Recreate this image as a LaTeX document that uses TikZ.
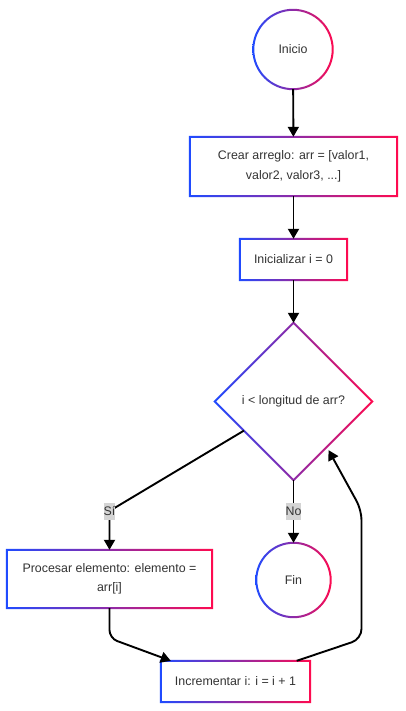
\documentclass[tikz,border=0pt]{standalone}
\usepackage{fontspec}
\setmainfont{Liberation Sans}
\usetikzlibrary{shapes.geometric,arrows.meta,calc}
\definecolor{gblue}{HTML}{1F4BFF}
\definecolor{gred}{HTML}{FF0A4F}
\definecolor{txt}{HTML}{333333}
\definecolor{lblbg}{HTML}{D4D4D4}
\newcommand\gradbox[1]{\shade[left color=gblue,right color=gred,even odd rule]
  ($(#1.south west)+(-1pt,-1pt)$) rectangle ($(#1.north east)+(1pt,1pt)$)
  ($(#1.south west)+(1pt,1pt)$) rectangle ($(#1.north east)+(-1pt,-1pt)$);}
\newcommand\gradcirc[1]{\shade[left color=gblue,right color=gred,even odd rule]
  let \p1=($(#1.east)-(#1.center)$) in
  (#1.center) circle[radius=\x1+1pt] (#1.center) circle[radius=\x1-1pt];}
\newcommand\graddia[1]{\shade[left color=gblue,right color=gred,even odd rule]
  ($(#1.north)+(0pt,1.41pt)$) -- ($(#1.east)+(1.41pt,0pt)$) -- ($(#1.south)+(0pt,-1.41pt)$) -- ($(#1.west)+(-1.41pt,0pt)$) -- cycle
  ($(#1.north)+(0pt,-1.41pt)$) -- ($(#1.east)+(-1.41pt,0pt)$) -- ($(#1.south)+(0pt,1.41pt)$) -- ($(#1.west)+(1.41pt,0pt)$) -- cycle;}
\begin{document}
\begin{tikzpicture}[x=1pt,y=-1pt,
  every node/.style={font=\fontsize{12.4}{19.5}\selectfont, text=txt},
  boxnode/.style={rectangle, inner sep=0pt, align=center},
  circnode/.style={circle, inner sep=0pt},
  decnode/.style={diamond, inner sep=0pt, aspect=1},
  flow/.style={draw=black, line width=1.9pt, -{Triangle[length=10pt,width=11pt]}},
  edgelabel/.style={fill=lblbg, inner xsep=0pt, inner ysep=0pt, minimum height=17pt}
]
\useasboundingbox[fill=white] (0,0) rectangle (405,711);
% nodes
\node[circnode, minimum size=79pt] (inicio) at (293,49.5) {Inicio};
\node[boxnode, minimum width=207pt, minimum height=59pt] (crear) at (293.5,166.5) {Crear arreglo: arr = [valor1,\\valor2, valor3, ...]};
\node[boxnode, minimum width=107pt, minimum height=41pt] (init) at (293.5,259.5) {Inicializar i = 0};
\node[decnode, minimum size=157pt] (cond) at (293.5,401.5) {i < longitud de arr?};
\node[boxnode, minimum width=205pt, minimum height=58pt] (proc) at (109.5,579) {Procesar elemento: elemento =\\arr[i]};
\node[circnode, minimum size=74pt] (fin) at (293.5,580) {Fin};
\node[boxnode, minimum width=149pt, minimum height=41pt] (inc) at (235.5,681.5) {Incrementar i: i = i + 1};
% gradient borders
\gradcirc{inicio}
\gradbox{crear}
\gradbox{init}
\graddia{cond}
\gradbox{proc}
\gradcirc{fin}
\gradbox{inc}
% connectors
\coordinate (sistart) at ($(cond.west)!0.37!(cond.south)$);
\coordinate (sibend) at (109.5,511);
\coordinate (incin) at ($(inc.north west)!0.067!(inc.north east)$);
\coordinate (incout) at ($(inc.north west)!0.91!(inc.north east)$);
\coordinate (loopin) at ($(cond.south)!0.42!(cond.east)+(2pt,-3pt)$);
\draw[flow] (inicio) -- (crear);
\draw[flow] (crear) -- (init);
\draw[flow] (init) -- (cond);
\draw[flow] (sistart) -- (sibend) -- (proc.north);
\draw[flow] (cond.south) -- (fin.north);
\draw[flow, rounded corners=8pt] (proc.south) -- ($(proc.south)+(0,30)$) -- (incin);
\draw[flow, rounded corners=10pt] (incout) -- (361.5,639) -- (361.5,510) -- (loopin);
% edge labels
\node[edgelabel] (lsi) at (sibend) {Sí};
\node[edgelabel] (lno) at ($(cond.south)!0.5!(fin.north)$) {No};
\end{tikzpicture}
\end{document}
